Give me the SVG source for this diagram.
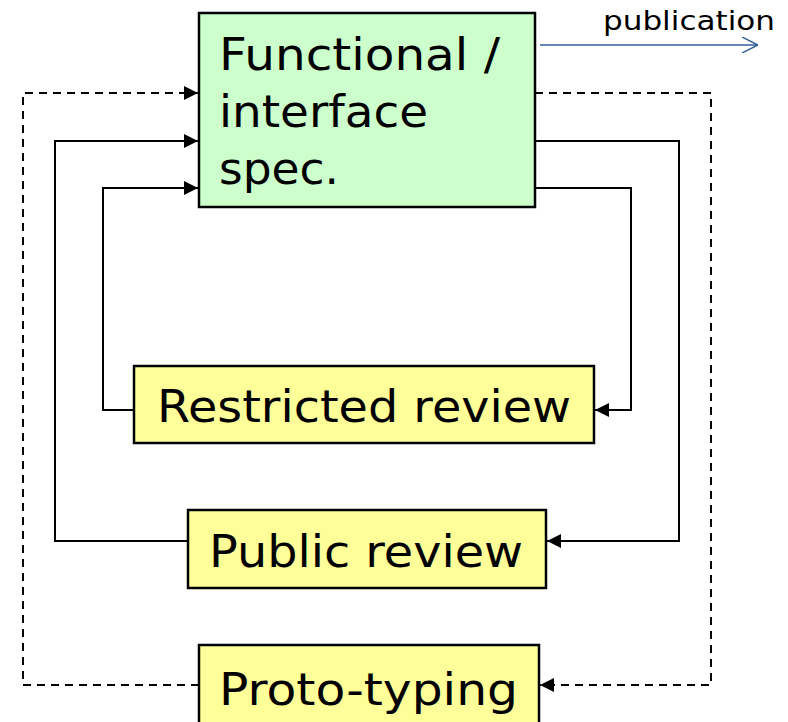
<svg xmlns="http://www.w3.org/2000/svg" width="788" height="722" viewBox="0 0 788 722">
  <style>
    .node { stroke: #000; stroke-width: 2.5; }
    .spec { fill: #CCFFCC; }
    .step { fill: #FFFF99; }
    .label { font-family: "DejaVu Sans", Verdana, sans-serif; font-size: 45px; fill: #000; }
    .link { fill: none; stroke: #000; stroke-width: 2; }
    .dashed { stroke-dasharray: 8 6; }
    .pub { fill: none; stroke: #2F5F98; stroke-width: 1.5; }
  </style>
  <defs>
    <marker id="head" viewBox="0 0 14 14" refX="14" refY="7" markerWidth="14" markerHeight="14" markerUnits="userSpaceOnUse" orient="auto">
      <path d="M0,0 L14,7 L0,14 Z" fill="#000"/>
    </marker>
    <marker id="open" viewBox="0 0 16 16" refX="16" refY="8" markerWidth="16" markerHeight="16" markerUnits="userSpaceOnUse" orient="auto">
      <path d="M0,0 L16,8 L0,16" fill="none" stroke="#2F5F98" stroke-width="1.5"/>
    </marker>
  </defs>

  <g id="connectors">
    <!-- prototyping loop (dashed, outermost) -->
    <path class="link dashed" d="M535,93 H711 V685 H540" marker-end="url(#head)"/>
    <path class="link dashed" d="M199,685 H23 V93 H198" marker-end="url(#head)"/>
    <!-- public review loop -->
    <path class="link" d="M535,141 H679 V541 H547" marker-end="url(#head)"/>
    <path class="link" d="M188,541 H55 V141 H198" marker-end="url(#head)"/>
    <!-- restricted review loop (innermost) -->
    <path class="link" d="M535,188 H631 V410 H595" marker-end="url(#head)"/>
    <path class="link" d="M134,410 H103 V188 H198" marker-end="url(#head)"/>
    <!-- publication output -->
    <path class="pub" d="M540,45 H758" marker-end="url(#open)"/>
  </g>

  <text x="603" y="30" font-family="DejaVu Sans, Verdana, sans-serif" font-size="26" fill="#000" textLength="172" lengthAdjust="spacingAndGlyphs">publication</text>

  <g id="spec">
    <rect class="node spec" x="199" y="13" width="336" height="194"/>
    <text class="label" x="219" y="70" textLength="281" lengthAdjust="spacingAndGlyphs">Functional /</text>
    <text class="label" x="219" y="127" textLength="209" lengthAdjust="spacingAndGlyphs">interface</text>
    <text class="label" x="219" y="184" textLength="120" lengthAdjust="spacingAndGlyphs">spec.</text>
  </g>

  <g id="restricted-review">
    <rect class="node step" x="134" y="366" width="460" height="77"/>
    <text class="label" x="157" y="422" textLength="414" lengthAdjust="spacingAndGlyphs">Restricted review</text>
  </g>

  <g id="public-review">
    <rect class="node step" x="188" y="510" width="358" height="78"/>
    <text class="label" x="209" y="567" textLength="314" lengthAdjust="spacingAndGlyphs">Public review</text>
  </g>

  <g id="prototyping">
    <rect class="node step" x="199" y="645" width="340" height="80"/>
    <text class="label" x="219" y="705" textLength="299" lengthAdjust="spacingAndGlyphs">Proto-typing</text>
  </g>
</svg>
